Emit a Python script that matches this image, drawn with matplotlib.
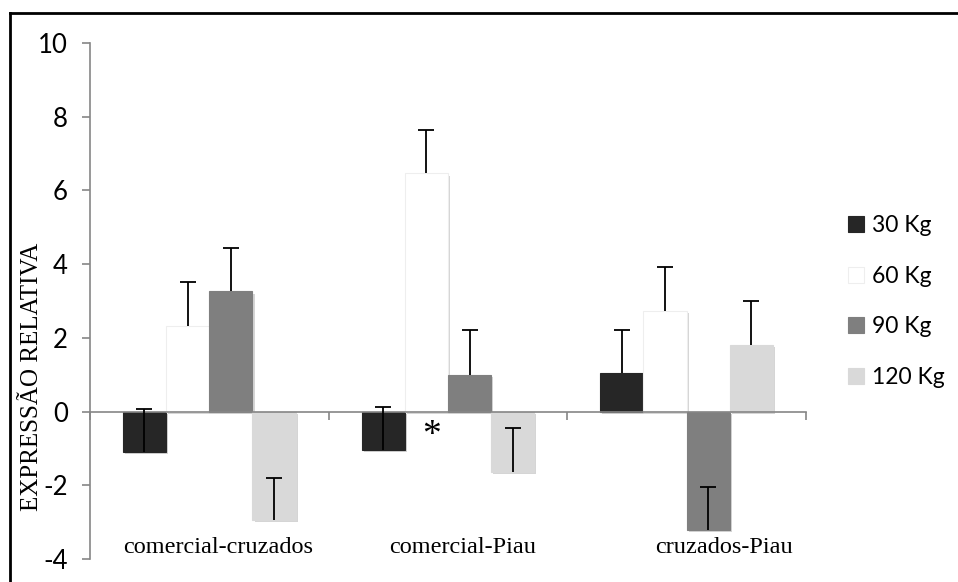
import numpy as np
import matplotlib.pyplot as plt
import matplotlib.patheffects as pe

plt.rcParams['axes.unicode_minus'] = False

# dados
grupos = ['comercial-cruzados', 'comercial-Piau', 'cruzados-Piau']
series = ['30 Kg', '60 Kg', '90 Kg', '120 Kg']
v30 = [-1.10, -1.03, 1.06]
v60 = [2.33, 6.46, 2.72]
v90 = [3.26, 0.99, -3.22]
v120 = [-2.95, -1.64, 1.82]
e30 = [1.18, 1.16, 1.16]
e60 = [1.18, 1.17, 1.21]
e90 = [1.19, 1.21, 1.17]
e120 = [1.15, 1.19, 1.18]
valores = [v30, v60, v90, v120]
erros = [e30, e60, e90, e120]
cores = ['#262626', '#ffffff', '#7f7f7f', '#d9d9d9']

fig = plt.figure(figsize=(9.58, 5.82), dpi=100)
ax = fig.add_axes([0.0939, 0.0395, 0.7474, 0.8866])

x = np.arange(len(grupos))
w = 0.181
sombra = [pe.SimplePatchShadow(offset=(1.5, -1.5), shadow_rgbFace='#888888', alpha=0.35), pe.Normal()]
for i, (vals, errs) in enumerate(zip(valores, erros)):
    pos = x + (i - 1.5) * w
    bars = ax.bar(pos, vals, w, color=cores[i], label=series[i],
                  edgecolor='#eeeeee' if i == 1 else cores[i], linewidth=0.8, zorder=2)
    for b in bars:
        b.set_path_effects(sombra)
    topo = np.array(vals) + np.array(errs)
    ax.vlines(pos, vals, topo, color='black', lw=1.3, zorder=3)
    ax.plot(pos, topo, linestyle='none', marker='_', markersize=11, mew=1.3,
            color='black', zorder=3)

ax.set_xlim(-0.5, 2.5)
ax.set_ylim(-4, 10)
ax.set_yticks(np.arange(-4, 11, 2))
for s in ['top', 'right']:
    ax.spines[s].set_visible(False)
ax.spines['left'].set_color('#868686')
ax.spines['bottom'].set_color('#868686')
ax.spines['bottom'].set_position(('data', 0))
ax.spines['left'].set_linewidth(1.2)
ax.spines['bottom'].set_linewidth(1.2)
ax.set_xticks([-0.5, 0.5, 1.5, 2.5])
ax.set_xticklabels([])
ax.tick_params(axis='x', direction='out', length=6, color='#868686', width=1.2)
ax.tick_params(axis='y', direction='out', length=6, color='#868686', width=1.2,
               labelsize=18.5, pad=10)
for t in ax.get_yticklabels():
    t.set_fontfamily('Lato')

label_x = [0.036, 1.063, 2.158]
for lx, g in zip(label_x, grupos):
    ax.text(lx, -3.69, g, ha='center', va='center', fontsize=17.5,
            family='Liberation Serif')

ax.text(0.93, -0.65, '*', ha='center', va='center', fontsize=27,
        family='Liberation Serif')

fig.text(0.033, 0.352, 'EXPRESSÃO RELATIVA', rotation=90, ha='center', va='center',
         fontsize=18, family='Liberation Serif')

leg = ax.legend(loc='center left', bbox_to_anchor=(0.885, 0.482),
                bbox_transform=fig.transFigure, frameon=False,
                borderpad=0, borderaxespad=0,
                handlelength=0.7, handleheight=0.7, handletextpad=0.35,
                labelspacing=1.3, prop={'family': 'Lato', 'size': 16.5})
for h in leg.legend_handles:
    h.set_path_effects([])
leg.legend_handles[1].set_edgecolor('#eeeeee')

# moldura (esquerda e topo)
fig.add_artist(plt.Line2D([0.0104, 0.0104], [0, 0.978], color='black', lw=2, transform=fig.transFigure))
fig.add_artist(plt.Line2D([0.0104, 1.0], [0.978, 0.978], color='black', lw=2, transform=fig.transFigure))

fig.savefig('out.png', dpi=100)
